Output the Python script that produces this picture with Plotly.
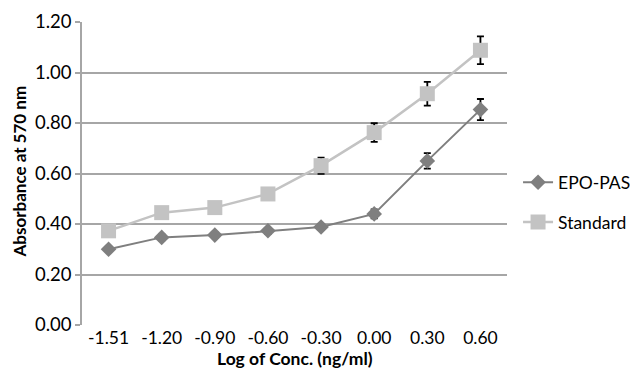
import plotly.graph_objects as go

categories = ["-1.51", "-1.20", "-0.90", "-0.60", "-0.30", "0.00", "0.30", "0.60"]
epo_pas = [0.300, 0.347, 0.356, 0.373, 0.388, 0.440, 0.650, 0.853]
epo_err = [0.010, 0.012, 0.012, 0.012, 0.012, 0.018, 0.031, 0.042]
standard = [0.373, 0.445, 0.465, 0.519, 0.631, 0.762, 0.916, 1.088]
std_err = [0.010, 0.010, 0.010, 0.012, 0.032, 0.037, 0.047, 0.055]
y_ticks = [0.0, 0.2, 0.4, 0.6, 0.8, 1.0, 1.2]

FONT = "Lato"
fig = go.Figure()
fig.add_trace(go.Scatter(
    x=categories, y=epo_pas, name="EPO-PAS", mode="lines+markers",
    line=dict(color="#7f7f7f", width=2),
    marker=dict(symbol="diamond", size=12, color="#7f7f7f"),
    error_y=dict(type="data", array=epo_err, color="black", thickness=1.8, width=3.5),
    legendgroup="a",
))
fig.add_trace(go.Scatter(
    x=categories, y=standard, name="Standard", mode="lines+markers",
    line=dict(color="#c3c3c3", width=2.5),
    marker=dict(symbol="square", size=15, color="#c3c3c3"),
    error_y=dict(type="data", array=std_err, color="black", thickness=1.8, width=3.5),
    legendgroup="b",
))
fig.update_layout(
    width=630, height=370,
    margin=dict(l=82, r=123, t=22, b=45, autoexpand=False),
    paper_bgcolor="white", plot_bgcolor="white",
    font=dict(family=FONT, size=18.5, color="black"),
    showlegend=True,
    legend=dict(x=1.026, xanchor="left", y=0.4045, yanchor="middle",
                font=dict(size=17.5), tracegroupgap=14, itemwidth=30),
    xaxis=dict(type="category", range=[-0.5, 7.5], showgrid=False,
               showline=False, ticks="", zeroline=False, ticklabelstandoff=0,
               tickfont=dict(size=17.5), automargin=False),
    yaxis=dict(range=[0, 1.2], tickvals=y_ticks, tickformat=".2f",
               showgrid=True, gridcolor="#a6a6a6", gridwidth=1.5,
               showline=True, linecolor="#a6a6a6", linewidth=1.5,
               ticks="outside", ticklen=5, tickcolor="#a6a6a6", tickwidth=1.5,
               zeroline=False, ticklabelstandoff=0, automargin=False),
    annotations=[
        dict(text="<b>Log of Conc. (ng/ml)</b>", xref="paper", yref="paper",
             x=0.5, y=-0.109, xanchor="center", yanchor="middle",
             showarrow=False, font=dict(size=17.5)),
        dict(text="<b>Absorbance at 570 nm</b>", xref="paper", yref="paper",
             x=-0.1459, y=0.5066, xanchor="center", yanchor="middle",
             textangle=-90, showarrow=False, font=dict(size=17)),
    ],
)
fig.write_html("out.html", config={"displayModeBar": False},
               post_script="document.body.style.margin='0';")
